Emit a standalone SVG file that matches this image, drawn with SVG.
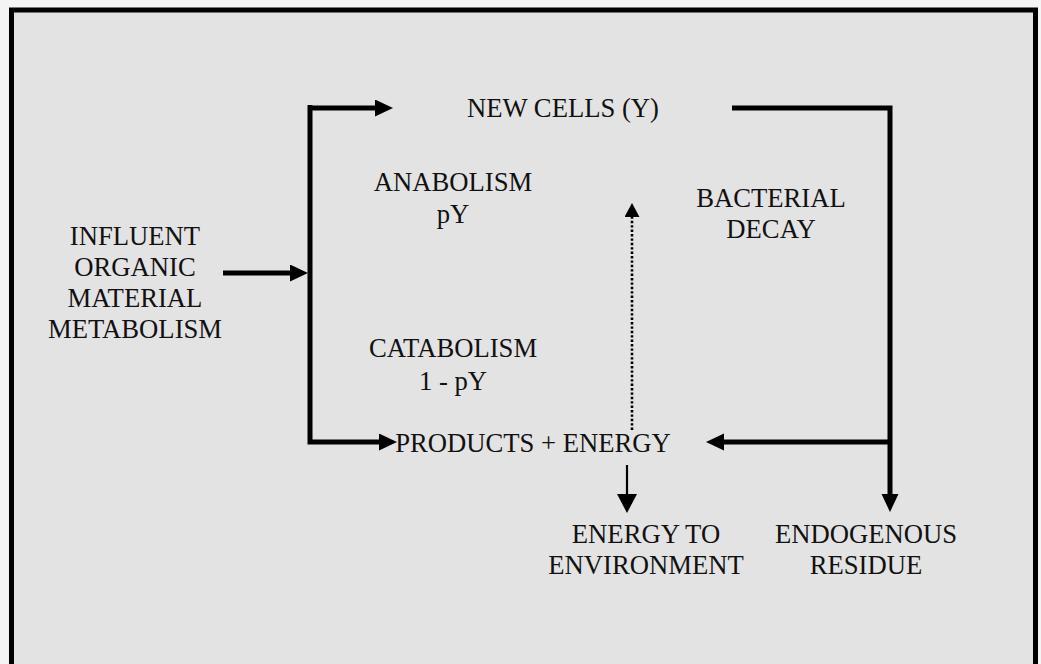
<svg xmlns="http://www.w3.org/2000/svg" width="1041" height="664" viewBox="0 0 1041 664">
<style>
text{font-family:"Liberation Serif","Times New Roman",serif;font-size:26.67px;fill:#111;text-anchor:middle}
.thick{fill:none;stroke:#000;stroke-width:5}
.thin{fill:none;stroke:#000;stroke-width:2.2}
.dot{fill:none;stroke:#000;stroke-width:2.6;stroke-dasharray:2.4 2}
</style>
<defs>
<marker id="ah" markerUnits="userSpaceOnUse" markerWidth="20" markerHeight="20" refX="1" refY="8.5" orient="auto"><path d="M0,0 L18,8.5 L0,17 z" fill="#000"/></marker>
<marker id="ahThin" markerUnits="userSpaceOnUse" markerWidth="22" markerHeight="22" refX="1" refY="10" orient="auto"><path d="M0,0 L19,10 L0,20 z" fill="#000"/></marker>
<marker id="ahDot" markerUnits="userSpaceOnUse" markerWidth="16" markerHeight="16" refX="1" refY="7.5" orient="auto"><path d="M0,0 L14,7.5 L0,15 z" fill="#000"/></marker>
</defs>
<rect x="0" y="0" width="1041" height="664" fill="#f4f4f4"/>
<rect x="11.5" y="10" width="1024" height="670" fill="#e3e3e3" stroke="#000" stroke-width="5"/>
<g id="connectors">
<path class="thick" d="M312,108 H376" marker-end="url(#ah)"/>
<path class="thick" d="M310,105 V442 H380" marker-end="url(#ah)"/>
<path class="thick" d="M223,273 H291" marker-end="url(#ah)"/>
<path class="thick" d="M732,108 H890 V495" marker-end="url(#ah)"/>
<path class="thick" d="M890,442 H723" marker-end="url(#ah)"/>
<path class="thin" d="M627,465 V495" marker-end="url(#ahThin)"/>
<path class="dot" d="M632,430 V216" marker-end="url(#ahDot)"/>
</g>
<g id="influent"><text x="135" y="245">INFLUENT</text><text x="135" y="276">ORGANIC</text><text x="135" y="307">MATERIAL</text><text x="135" y="338">METABOLISM</text></g>
<g id="new-cells"><text x="563" y="117">NEW CELLS (Y)</text></g>
<g id="anabolism"><text x="453" y="191">ANABOLISM</text><text x="453" y="223">pY</text></g>
<g id="catabolism"><text x="453" y="357">CATABOLISM</text><text x="453" y="390">1 - pY</text></g>
<g id="decay"><text x="771" y="207">BACTERIAL</text><text x="771" y="238">DECAY</text></g>
<g id="products"><text x="533" y="452">PRODUCTS + ENERGY</text></g>
<g id="energy-env"><text x="646" y="543">ENERGY TO</text><text x="646" y="574">ENVIRONMENT</text></g>
<g id="residue"><text x="866" y="543">ENDOGENOUS</text><text x="866" y="574">RESIDUE</text></g>
</svg>
